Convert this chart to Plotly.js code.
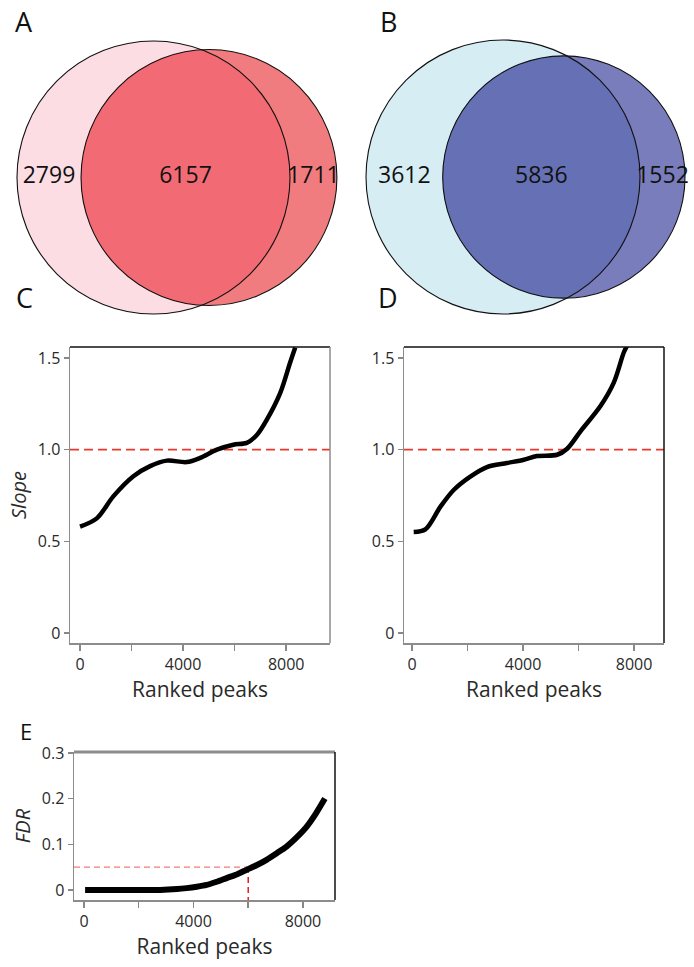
<!DOCTYPE html>
<html>
<head>
<meta charset="utf-8">
<script src="https://cdn.plot.ly/plotly-3.0.1.min.js"></script>
<style>html,body{margin:0;padding:0;background:#fff;}#chart{width:694px;height:967px;}</style>
</head>
<body>
<div id="chart"></div>
<script>
// ---------------- DATA ----------------
// Venn counts: [left only, shared, right only]
const vennACounts = [2799, 6157, 1711];
const vennBCounts = [3612, 5836, 1552];

// Panel C: slope vs ranked peaks
const slopeC_x = [0, 650, 1290, 2070, 2720, 3370, 4140, 4660, 5310, 5950, 6470, 6860, 7250, 7770, 8150, 8350];
const slopeC_y = [0.58, 0.625, 0.745, 0.855, 0.91, 0.94, 0.932, 0.955, 1.0, 1.027, 1.037, 1.08, 1.164, 1.31, 1.474, 1.557];

// Panel D: slope vs ranked peaks
const slopeD_x = [60, 480, 1020, 1500, 2100, 2700, 3420, 4030, 4500, 5230, 5590, 6070, 6790, 7270, 7630, 7750];
const slopeD_y = [0.55, 0.565, 0.688, 0.78, 0.853, 0.905, 0.927, 0.945, 0.965, 0.972, 1.005, 1.1, 1.238, 1.366, 1.53, 1.567];

// Panel E: FDR vs ranked peaks
const fdr_x = [40, 1000, 2000, 2780, 3400, 3750, 4120, 4480, 4850, 5210, 5580, 5940, 6300, 6670, 7030, 7400, 7770, 8130, 8470, 8800];
const fdr_y = [0, 0, 0, 0, 0.002, 0.004, 0.007, 0.011, 0.018, 0.026, 0.034, 0.044, 0.054, 0.066, 0.08, 0.095, 0.115, 0.138, 0.167, 0.2];

const slopeRef = 1.0;
const fdrCut = 0.05;
const peakCut = 6000;

const xTickVals = [0, 2000, 4000, 6000, 8000];
const xTickText = ['0', '', '4000', '', '8000'];
const slopeTickVals = [0, 0.5, 1.0, 1.5];
const slopeTickText = ['0', '0.5', '1.0', '1.5'];
const fdrTickVals = [0, 0.1, 0.2, 0.3];
const fdrTickText = ['0', '0.1', '0.2', '0.3'];

// ---------------- HELPERS ----------------
const W = 694, H = 967;
const FONT = 'Open Sans, Noto Sans, sans-serif';
const TXT = '#2a2a2a';

function lensArea(r1, r2, d) {
  if (d >= r1 + r2) return 0;
  if (d <= Math.abs(r1 - r2)) return Math.PI * Math.min(r1, r2) ** 2;
  const a = r1 * r1 * Math.acos((d * d + r1 * r1 - r2 * r2) / (2 * d * r1));
  const b = r2 * r2 * Math.acos((d * d + r2 * r2 - r1 * r1) / (2 * d * r2));
  const c = 0.5 * Math.sqrt((-d + r1 + r2) * (d + r1 - r2) * (d - r1 + r2) * (d + r1 + r2));
  return a + b - c;
}

// Build area-proportional two-set Venn in its own axes
function buildVenn(counts, axN, pxBox, bigRadiusPx, centerPx, colors) {
  const [lo, sh, ro] = counts;
  const r1 = Math.sqrt((lo + sh) / Math.PI);
  const r2 = Math.sqrt((ro + sh) / Math.PI);
  let a = Math.abs(r1 - r2), b = r1 + r2;
  for (let i = 0; i < 80; i++) {
    const m = (a + b) / 2;
    if (lensArea(r1, r2, m) > sh) a = m; else b = m;
  }
  const d = (a + b) / 2;
  const s = bigRadiusPx / r1; // px per unit
  const xref = 'x' + axN, yref = 'y' + axN;
  const xaxis = {
    domain: [pxBox.x0 / W, pxBox.x1 / W],
    range: [-centerPx.x / s, (pxBox.x1 - pxBox.x0 - centerPx.x) / s],
    visible: false, fixedrange: true, anchor: yref
  };
  const hpx = pxBox.y1 - pxBox.y0;
  const yaxis = {
    domain: [1 - pxBox.y1 / H, 1 - pxBox.y0 / H],
    range: [-(hpx - centerPx.y) / s, centerPx.y / s],
    visible: false, fixedrange: true, anchor: xref
  };
  // lens polygon
  const xi = (d * d + r1 * r1 - r2 * r2) / (2 * d);
  const yi = Math.sqrt(Math.max(r1 * r1 - xi * xi, 0));
  const t2 = Math.atan2(yi, xi - d);
  const t1 = Math.atan2(yi, xi);
  const pts = [];
  const N = 120;
  for (let i = 0; i <= N; i++) { const t = t2 + (2 * Math.PI - 2 * t2) * i / N; pts.push([d + r2 * Math.cos(t), r2 * Math.sin(t)]); }
  for (let i = 0; i <= N; i++) { const t = -t1 + 2 * t1 * i / N; pts.push([r1 * Math.cos(t), r1 * Math.sin(t)]); }
  const path = 'M ' + pts.map(p => p[0].toFixed(4) + ',' + p[1].toFixed(4)).join(' L ') + ' Z';
  const shapes = [
    {type: 'circle', xref, yref, x0: -r1, x1: r1, y0: -r1, y1: r1, fillcolor: colors.left, line: {width: 0}, layer: 'below'},
    {type: 'circle', xref, yref, x0: d - r2, x1: d + r2, y0: -r2, y1: r2, fillcolor: colors.right, line: {width: 0}, layer: 'below'},
    {type: 'path', xref, yref, path, fillcolor: colors.both, line: {width: 0}, layer: 'below'},
    {type: 'circle', xref, yref, x0: -r1, x1: r1, y0: -r1, y1: r1, fillcolor: 'rgba(0,0,0,0)', line: {width: 1.1, color: '#111'}, layer: 'below'},
    {type: 'circle', xref, yref, x0: d - r2, x1: d + r2, y0: -r2, y1: r2, fillcolor: 'rgba(0,0,0,0)', line: {width: 1.1, color: '#111'}, layer: 'below'}
  ];
  const trace = {
    type: 'scatter', mode: 'text', xaxis: xref, yaxis: yref,
    x: [(-r1 + (d - r2)) / 2, ((d - r2) + r1) / 2, (r1 + d + r2) / 2],
    y: [0, 0, 0],
    text: counts.map(String),
    textposition: 'middle center',
    textfont: {family: FONT, size: 23, color: '#111'},
    hoverinfo: 'skip', showlegend: false
  };
  return {xaxis, yaxis, shapes, trace};
}

const vA = buildVenn(vennACounts, 4, {x0: 0, x1: 347, y0: 0, y1: 330}, 136.5, {x: 153.5, y: 177.5},
  {left: '#fbdde3', right: '#f17c7f', both: '#f26b74'});
const vB = buildVenn(vennBCounts, 5, {x0: 347, x1: 694, y0: 0, y1: 330}, 137, {x: 156, y: 177},
  {left: '#d6edf4', right: '#7a7dbb', both: '#6670b4'});

function dom(x0, x1, y0, y1) { return {x: [x0 / W, x1 / W], y: [1 - y1 / H, 1 - y0 / H]}; }
const dC = dom(70, 330, 347, 643);
const dD = dom(404, 664, 347, 643);
const dE = dom(74, 335, 752, 900);

function xAxis(d, range, anchor) {
  return {
    domain: d.x, range, anchor,
    tickvals: xTickVals, ticktext: xTickText,
    ticks: 'outside', ticklen: 6, tickwidth: 1.5, tickcolor: '#888',
    showline: true, linecolor: '#8c8c8c', linewidth: 1.5,
    showgrid: false, zeroline: false,
    tickfont: {family: FONT, size: 16, color: TXT},
    title: {text: 'Ranked peaks', font: {family: FONT, size: 21, color: TXT}, standoff: 2}
  };
}
function yAxis(d, range, anchor, vals, txt, title) {
  return {
    domain: d.y, range, anchor,
    tickvals: vals, ticktext: txt,
    ticks: 'outside', ticklen: 5, tickwidth: 1.2, tickcolor: '#888',
    showline: true, linecolor: '#8c8c8c', linewidth: 1.5,
    showgrid: false, zeroline: false,
    tickfont: {family: FONT, size: 16, color: TXT},
    title: title ? {text: title, font: {family: FONT, size: 20, color: TXT}, standoff: 6} : {text: ''}
  };
}

const xRangeC = [-390, 9700];
const xRangeD = [-290, 9080];
const xRangeE = [-365, 9170];
const yRangeS = [-0.055, 1.56];
const yRangeF = [-0.022, 0.302];

const traces = [
  vA.trace, vB.trace,
  {type: 'scatter', mode: 'lines', x: xRangeC, y: [slopeRef, slopeRef], xaxis: 'x', yaxis: 'y',
    line: {color: '#e8392c', width: 1.7, dash: '9px,5px'}, hoverinfo: 'skip', showlegend: false},
  {type: 'scatter', mode: 'lines', x: slopeC_x, y: slopeC_y, xaxis: 'x', yaxis: 'y',
    line: {color: '#000', width: 4.5, shape: 'spline', smoothing: 0.9}, hoverinfo: 'skip', showlegend: false},
  {type: 'scatter', mode: 'lines', x: xRangeD, y: [slopeRef, slopeRef], xaxis: 'x2', yaxis: 'y2',
    line: {color: '#e8392c', width: 1.7, dash: '9px,5px'}, hoverinfo: 'skip', showlegend: false},
  {type: 'scatter', mode: 'lines', x: slopeD_x, y: slopeD_y, xaxis: 'x2', yaxis: 'y2',
    line: {color: '#000', width: 4.5, shape: 'spline', smoothing: 0.9}, hoverinfo: 'skip', showlegend: false},
  {type: 'scatter', mode: 'lines', x: [xRangeE[0], peakCut], y: [fdrCut, fdrCut], xaxis: 'x3', yaxis: 'y3',
    line: {color: '#f07a7a', width: 1.3, dash: '6px,4px'}, hoverinfo: 'skip', showlegend: false},
  {type: 'scatter', mode: 'lines', x: [peakCut, peakCut], y: [fdrCut, yRangeF[0]], xaxis: 'x3', yaxis: 'y3',
    line: {color: '#e02020', width: 1.5, dash: '6px,4px'}, hoverinfo: 'skip', showlegend: false},
  {type: 'scatter', mode: 'lines', x: fdr_x, y: fdr_y, xaxis: 'x3', yaxis: 'y3',
    line: {color: '#000', width: 6, shape: 'spline', smoothing: 0.6}, hoverinfo: 'skip', showlegend: false}
];

const frameShapes = [
  // C: top black, right grey
  {type: 'line', xref: 'x domain', yref: 'y domain', x0: 0, x1: 1, y0: 1, y1: 1, line: {color: '#111', width: 1.5}},
  {type: 'line', xref: 'x domain', yref: 'y domain', x0: 1, x1: 1, y0: 0, y1: 1, line: {color: '#8c8c8c', width: 1.5}},
  // D: top black, right black
  {type: 'line', xref: 'x2 domain', yref: 'y2 domain', x0: 0, x1: 1, y0: 1, y1: 1, line: {color: '#111', width: 1.5}},
  {type: 'line', xref: 'x2 domain', yref: 'y2 domain', x0: 1, x1: 1, y0: 0, y1: 1, line: {color: '#111', width: 1.5}},
  // E: top thick grey, right black
  {type: 'line', xref: 'x3 domain', yref: 'y3 domain', x0: 0, x1: 1, y0: 1, y1: 1, line: {color: '#8c8c8c', width: 3}},
  {type: 'line', xref: 'x3 domain', yref: 'y3 domain', x0: 1, x1: 1, y0: 0, y1: 1, line: {color: '#111', width: 1.5}}
];

function letter(t, px, py, size) {
  return {text: t, xref: 'paper', yref: 'paper', x: px / W, y: 1 - py / H, xanchor: 'center', yanchor: 'middle',
    showarrow: false, borderpad: 0, font: {family: FONT, size: size, color: '#111'}};
}

const layout = {
  width: W, height: H,
  margin: {l: 0, r: 0, t: 0, b: 0},
  paper_bgcolor: '#fff', plot_bgcolor: 'rgba(0,0,0,0)',
  showlegend: false,
  xaxis: xAxis(dC, xRangeC, 'y'),
  yaxis: yAxis(dC, yRangeS, 'x', slopeTickVals, slopeTickText, '<i>Slope</i>'),
  xaxis2: xAxis(dD, xRangeD, 'y2'),
  yaxis2: yAxis(dD, yRangeS, 'x2', slopeTickVals, slopeTickText, ''),
  xaxis3: xAxis(dE, xRangeE, 'y3'),
  yaxis3: yAxis(dE, yRangeF, 'x3', fdrTickVals, fdrTickText, '<i>FDR</i>'),
  xaxis4: vA.xaxis, yaxis4: vA.yaxis,
  xaxis5: vB.xaxis, yaxis5: vB.yaxis,
  shapes: vA.shapes.concat(vB.shapes, frameShapes),
  annotations: [
    letter('A', 24, 21, 27), letter('B', 389, 21, 27),
    letter('C', 24, 298, 27), letter('D', 388, 298, 27),
    letter('E', 26, 731, 22)
  ]
};

Plotly.newPlot('chart', traces, layout, {staticPlot: true, displayModeBar: false});
</script>
</body>
</html>
